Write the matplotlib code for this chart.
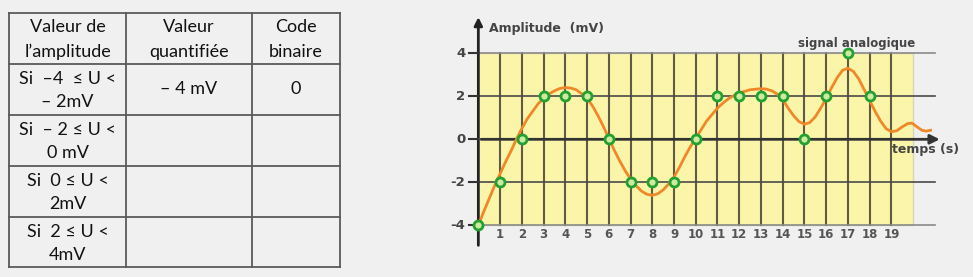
import matplotlib.pyplot as plt
from matplotlib.patches import Rectangle

# tableau de quantification
header = [["Valeur de", "l\u2019amplitude"], ["Valeur", "quantifiée"], ["Code", "binaire"]]
row_labels = [["Si  \u20134  \u2264 U <", "\u2013 2mV"],
              ["Si  \u2013 2 \u2264 U <", "0 mV"],
              ["Si  0 \u2264 U <", "2mV"],
              ["Si  2 \u2264 U <", "4mV"]]
quant_values = ["\u2013 4 mV", "", "", ""]
binary_codes = ["0", "", "", ""]

# signal analogique
t_signal = [0, 0.25, 0.5, 0.75, 1, 1.25, 1.5, 1.75, 2, 2.25, 2.5, 2.75, 3, 3.25, 3.5,
            3.75, 4, 4.25, 4.5, 4.75, 5, 5.25, 5.5, 5.75, 6, 6.25, 6.5, 6.75, 7, 7.25,
            7.5, 7.75, 8, 8.25, 8.5, 8.75, 9, 9.25, 9.5, 9.75, 10, 10.25, 10.5, 10.75,
            11, 11.25, 11.5, 11.75, 12, 12.5, 13, 13.25, 13.5, 13.75, 14, 14.25, 14.5,
            14.75, 15, 15.25, 15.5, 15.75, 16, 16.25, 16.5, 16.75, 17, 17.25, 17.5,
            17.75, 18, 18.25, 18.5, 18.75, 19, 19.25, 19.5, 19.75, 19.95, 20.15, 20.4,
            20.6, 20.8]
u_signal = [-4, -3.35, -2.75, -2.15, -1.6, -1.05, -0.55, 0.0, 0.5, 0.95, 1.3, 1.65,
            1.9, 2.1, 2.25, 2.36, 2.4, 2.38, 2.3, 2.12, 1.9, 1.55, 1.1, 0.6, 0.05, -0.5,
            -1.0, -1.45, -1.85, -2.15, -2.4, -2.55, -2.6, -2.53, -2.35, -2.08, -1.75,
            -1.3, -0.8, -0.35, 0.05, 0.45, 0.85, 1.15, 1.45, 1.68, 1.88, 2.03, 2.15,
            2.3, 2.35, 2.33, 2.25, 2.1, 1.85, 1.45, 1.1, 0.82, 0.7, 0.78, 1.05, 1.45,
            1.9, 2.4, 2.85, 3.2, 3.3, 3.15, 2.8, 2.3, 1.8, 1.3, 0.85, 0.5, 0.35, 0.4,
            0.58, 0.73, 0.75, 0.6, 0.42, 0.38, 0.42]

# échantillons quantifiés
t_samples = list(range(19))
u_samples = [-4, -2, 0, 2, 2, 2, 0, -2, -2, -2, 0, 2, 2, 2, 2, 0, 2, 4, 2]

x_ticks = list(range(1, 20))
y_ticks = [-4, -2, 0, 2, 4]

fig = plt.figure(figsize=(9.73, 2.77), dpi=100, facecolor='#f0f0f0')

# --- tableau (coordonnées pixels) ---
tab = fig.add_axes([0, 0, 1, 1])
tab.set_xlim(0, 973)
tab.set_ylim(277, 0)
tab.axis('off')

col_x = [9, 126, 252, 340]
row_y = [13, 64, 115, 166, 217, 267]
lc = '#5a5a5a'
for x in col_x:
    tab.plot([x, x], [row_y[0], row_y[-1]], color=lc, lw=1.3)
for y in row_y:
    tab.plot([col_x[0], col_x[-1]], [y, y], color=lc, lw=1.3)

font_tab = dict(family='Lato', fontsize=13, color='#111111', ha='center', va='center')
centers = [(col_x[i] + col_x[i + 1]) / 2 for i in range(3)]
for i, lines in enumerate(header):
    tab.text(centers[i], 27, lines[0], **font_tab)
    tab.text(centers[i], 52, lines[1], **font_tab)
for r in range(4):
    top = row_y[r + 1]
    tab.text(centers[0], top + 15, row_labels[r][0], **font_tab)
    tab.text(centers[0], top + 38, row_labels[r][1], **font_tab)
    tab.text(centers[1], top + 25, quant_values[r], **font_tab)
    tab.text(centers[2], top + 25, binary_codes[r], **font_tab)

# --- graphique ---
ax = fig.add_axes([456.6 / 973, 0.0848, 510.9 / 973, 0.879])
ax.set_xlim(-1, 22.5)
ax.set_ylim(-5.3, 6.0)
ax.axis('off')

ax.add_patch(Rectangle((0, -4), 20, 8, facecolor='#faf5a9', edgecolor='#d8d6b0', lw=1, zorder=0))
for x in x_ticks:
    ax.plot([x, x], [-4, 4], color='#5f5b45', lw=1.5, zorder=1)
for y in [-4, -2, 2, 4]:
    c = '#8a8a8a' if abs(y) == 4 else '#4a4a4a'
    ax.plot([0, 21], [y, y], color=c, lw=1.2, zorder=1)

# axes fléchés
ax.annotate('', xy=(21.35, 0), xytext=(0, 0),
            arrowprops=dict(arrowstyle='-|>', color='#333333', lw=2, mutation_scale=14), zorder=3)
ax.annotate('', xy=(0, 5.8), xytext=(0, -5.05),
            arrowprops=dict(arrowstyle='-|>', color='#222222', lw=2, mutation_scale=12), zorder=3)
for y in y_ticks:
    ax.plot([-0.45, 0], [y, y], color='#333333', lw=1.5, zorder=3)
    ax.text(-0.6, y, str(y), ha='right', va='center', fontsize=9.5,
            fontweight='bold', color='#444444')
for x in x_ticks:
    ax.text(x, -4.4, str(x), ha='center', va='center', fontsize=8.5,
            fontweight='bold', color='#555555')

ax.plot(t_signal, u_signal, color='#f0882a', lw=2, zorder=4)
ax.plot(t_samples, u_samples, 'o', ms=6.5, mfc='#cdeaa0', mec='#22a030', mew=2, zorder=5)

ax.text(0.5, 5.15, 'Amplitude  (mV)', ha='left', va='center', fontsize=9,
        fontweight='bold', color='#444444')
ax.text(14.7, 4.45, 'signal analogique', ha='left', va='center', fontsize=8.5,
        fontweight='bold', color='#444444')
ax.text(19.05, -0.45, 'temps (s)', ha='left', va='center', fontsize=9,
        fontweight='bold', color='#444444')

fig.savefig('out.png', dpi=100, facecolor=fig.get_facecolor())
